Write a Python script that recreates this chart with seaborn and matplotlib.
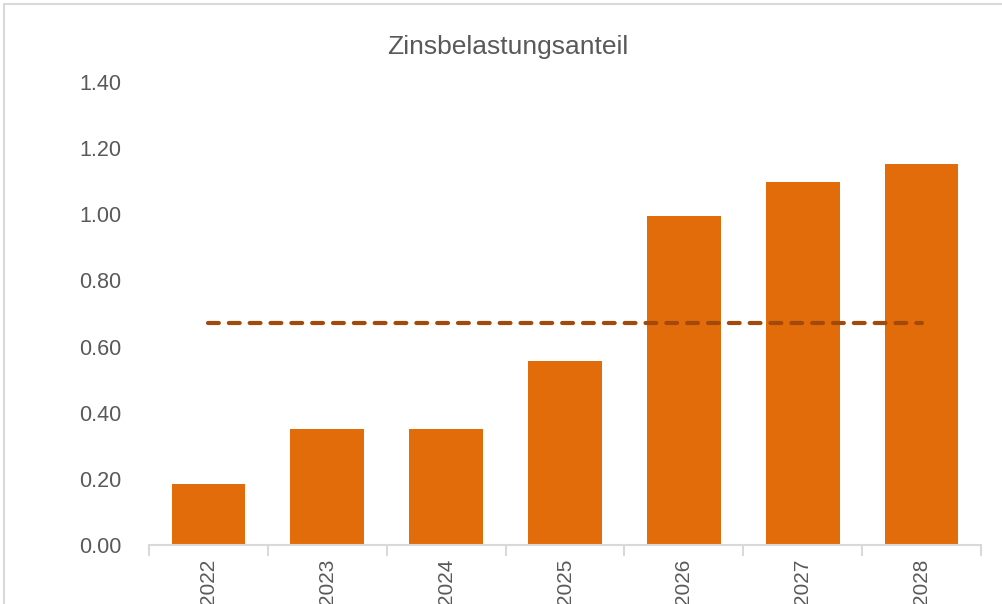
import matplotlib
matplotlib.use("Agg")
import matplotlib.pyplot as plt
from matplotlib.lines import Line2D
import numpy as np
import pandas as pd
import seaborn as sns

years = ["2022", "2023", "2024", "2025", "2026", "2027", "2028"]
anteil = [0.184, 0.351, 0.351, 0.556, 0.995, 1.098, 1.152]
durchschnitt = 0.671
yticks = [0.0, 0.2, 0.4, 0.6, 0.8, 1.0, 1.2, 1.4]
title = "Zinsbelastungsanteil"

sns.set_theme(style="white")
plt.rcParams["font.family"] = ["Liberation Sans", "DejaVu Sans"]

BAR = "#E36C0A"
LINE = "#A14A0C"
TXT = "#595959"
GRID = "#D9D9D9"

df = pd.DataFrame({"Jahr": years, "Anteil": anteil})

fig = plt.figure(figsize=(10.02, 6.04), dpi=100)
ax = fig.add_axes([149 / 1002, 59 / 604, 832 / 1002, 463 / 604])
sns.barplot(data=df, x="Jahr", y="Anteil", color=BAR, width=0.62, saturation=1,
            edgecolor="none", ax=ax)

pos = np.arange(len(years))
ax.plot(pos, [durchschnitt] * len(years), color=LINE, lw=3, ls=(0, (2.6, 2.4)),
        dash_capstyle="round")

ax.set_xlim(-0.5, len(years) - 0.5)
ax.set_ylim(0, 1.4)
ax.set_yticks(yticks)
ax.set_yticklabels([f"{v:.2f}" for v in yticks])
ax.set_xlabel("")
ax.set_ylabel("")
ax.set_xticks(pos)
ax.set_xticklabels(years, rotation=90)
ax.set_xticks(np.arange(-0.5, len(years), 1.0), minor=True)
ax.tick_params(axis="x", which="major", length=0, pad=10, labelsize=15, labelcolor=TXT)
ax.tick_params(axis="x", which="minor", length=8, width=1.5, color=GRID, direction="out", bottom=True)
ax.tick_params(axis="y", length=0, pad=20, labelsize=15.5, labelcolor=TXT)
for s in ["top", "right", "left"]:
    ax.spines[s].set_visible(False)
ax.spines["bottom"].set_color(GRID)
ax.spines["bottom"].set_linewidth(1.5)
ax.grid(False)

fig.text(508 / 1002, 1 - 47 / 604, title, ha="center", va="center", fontsize=19, color=TXT)

fig.add_artist(Line2D([4 / 1002, 1], [1 - 4 / 604, 1 - 4 / 604], color=GRID, lw=1.5,
                      transform=fig.transFigure))
fig.add_artist(Line2D([4 / 1002, 4 / 1002], [0, 1 - 4 / 604], color=GRID, lw=1.5,
                      transform=fig.transFigure))

fig.savefig("out.png", dpi=100)
